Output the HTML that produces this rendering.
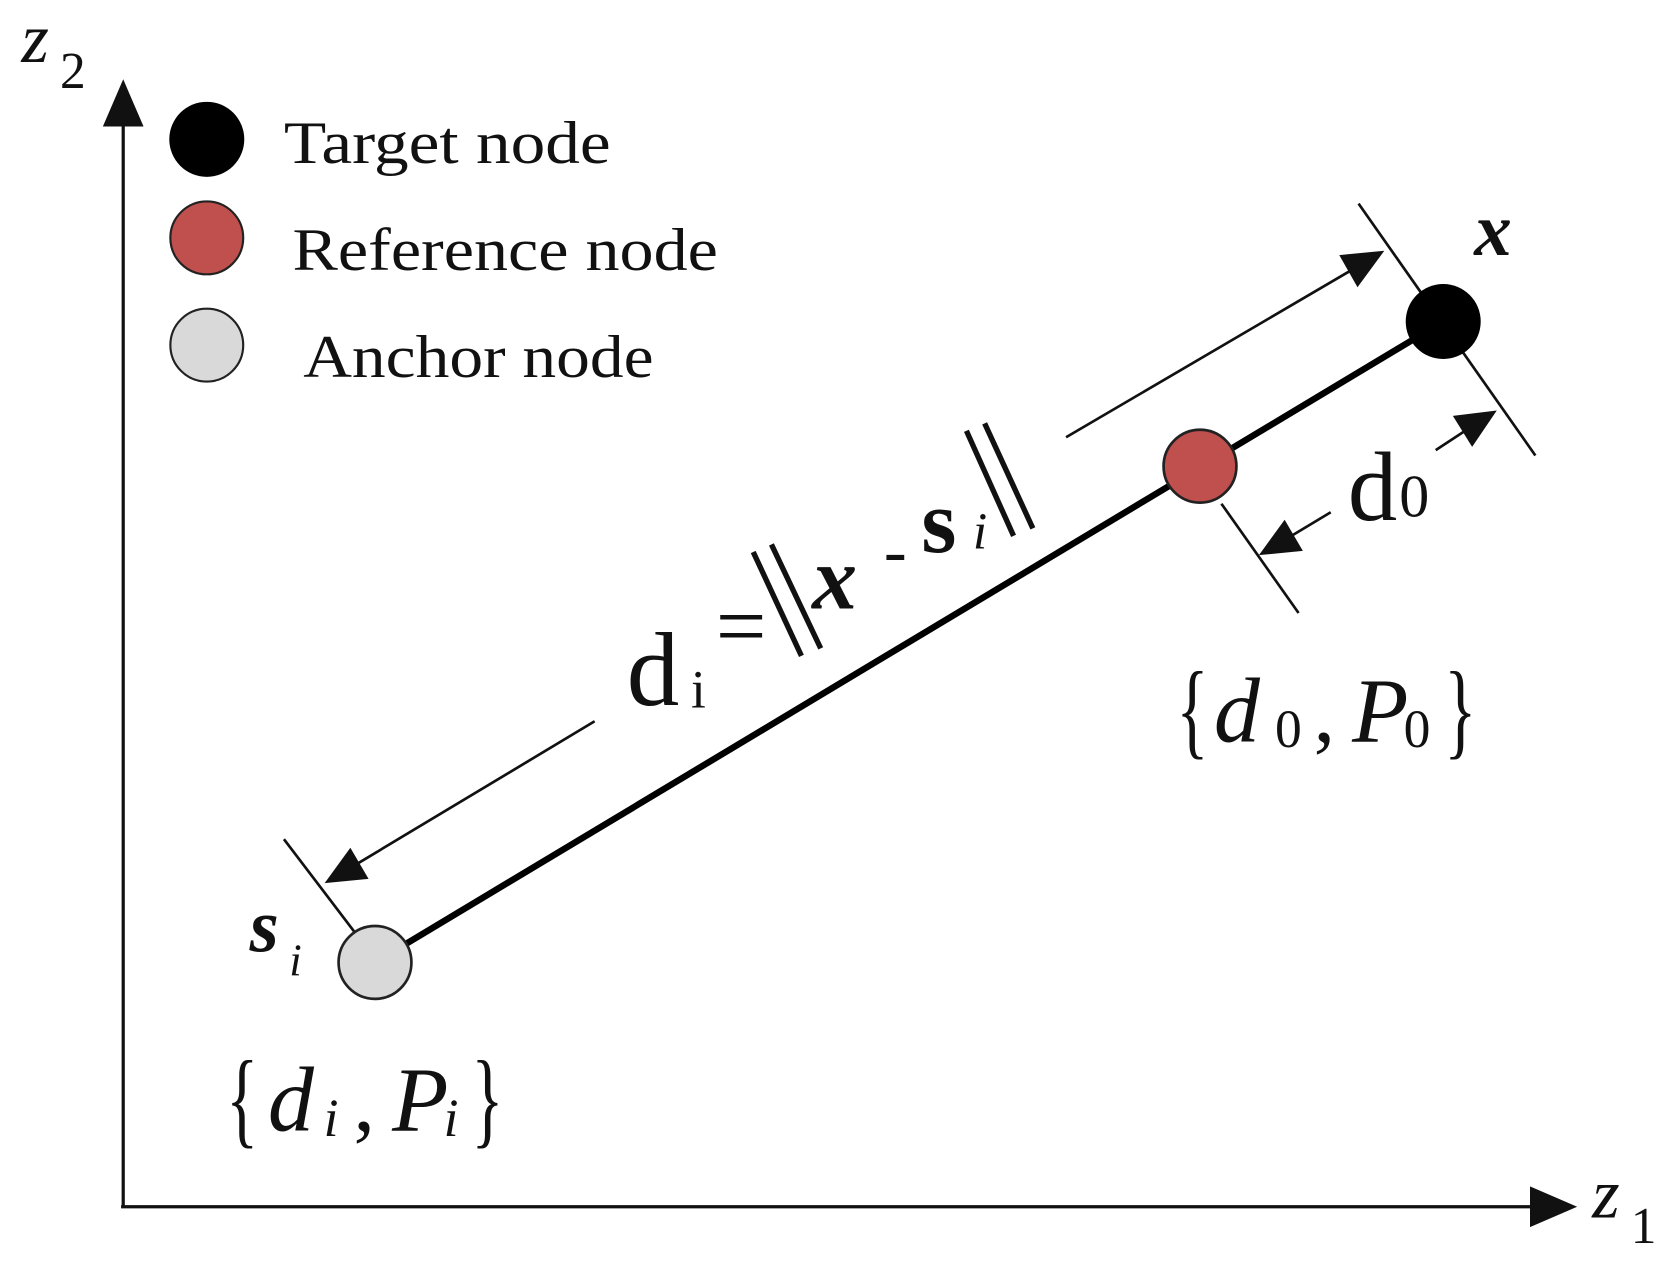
<!DOCTYPE html>
<html><head><meta charset="utf-8"><style>
html,body{margin:0;padding:0;background:#fff;}
svg{display:block;}
text{font-family:"Liberation Serif",serif;fill:#111;}
</style></head><body>
<svg width="1680" height="1270" viewBox="0 0 1568 1185" preserveAspectRatio="none" xmlns="http://www.w3.org/2000/svg">
<!-- axes -->
<line x1="115" y1="1126" x2="115" y2="110" stroke="#111" stroke-width="3"/>
<polygon points="115,74 96,118 134,118" fill="#111"/>
<line x1="113" y1="1126" x2="1440" y2="1126" stroke="#111" stroke-width="3"/>
<polygon points="1472,1126 1428,1107 1428,1145" fill="#111"/>
<text x="20" y="58" font-size="66" font-style="italic">z</text>
<text x="56" y="82" font-size="48">2</text>
<text x="1486" y="1136" font-size="66" font-style="italic">z</text>
<text x="1522" y="1160" font-size="48">1</text>
<!-- legend -->
<circle cx="193" cy="130" r="35" fill="#000"/>
<circle cx="193" cy="222" r="34" fill="#c0504d" stroke="#222" stroke-width="2"/>
<circle cx="193" cy="322" r="34" fill="#d9d9d9" stroke="#222" stroke-width="2"/>
<text x="265" y="152" font-size="56" textLength="305" lengthAdjust="spacingAndGlyphs">Target node</text>
<text x="273" y="252" font-size="56" textLength="397" lengthAdjust="spacingAndGlyphs">Reference node</text>
<text x="283" y="352" font-size="56" textLength="327" lengthAdjust="spacingAndGlyphs">Anchor node</text>
<!-- main line -->
<line x1="350" y1="898" x2="1347" y2="300" stroke="#000" stroke-width="6"/>
<!-- ticks -->
<line x1="1268" y1="190" x2="1433" y2="425" stroke="#111" stroke-width="2.5"/>
<line x1="1140" y1="470" x2="1212" y2="572" stroke="#111" stroke-width="2.5"/>
<line x1="265" y1="783" x2="335" y2="875" stroke="#111" stroke-width="2.5"/>
<!-- nodes -->
<circle cx="1347" cy="300" r="35" fill="#000"/>
<circle cx="1120" cy="435" r="34" fill="#c0504d" stroke="#222" stroke-width="2.5"/>
<circle cx="350" cy="898" r="34" fill="#d9d9d9" stroke="#222" stroke-width="2.5"/>
<!-- long arrows -->
<line x1="995" y1="408" x2="1270" y2="247" stroke="#111" stroke-width="2.5"/>
<polygon points="1292,234 1250,238 1267,268" fill="#111"/>
<line x1="555" y1="673" x2="325" y2="811" stroke="#111" stroke-width="2.5"/>
<polygon points="303,824 344,820 327,791" fill="#111"/>
<!-- d0 arrows -->
<line x1="1340" y1="420" x2="1375" y2="397" stroke="#111" stroke-width="2.5"/>
<polygon points="1397,383 1356,388 1374,417" fill="#111"/>
<line x1="1242" y1="478" x2="1197" y2="505" stroke="#111" stroke-width="2.5"/>
<polygon points="1175,518 1216,514 1199,485" fill="#111"/>
<!-- labels -->
<text x="1376" y="238" font-size="70" font-weight="bold" font-style="italic">x</text>
<text x="1258" y="485" font-size="92">d</text>
<text x="1306" y="482" font-size="56">0</text>
<text x="1098" y="695" font-size="100" textLength="30" lengthAdjust="spacingAndGlyphs">{</text>
<text x="1133" y="692" font-size="86" font-style="italic">d</text>
<text x="1190" y="697" font-size="50">0</text>
<text x="1226" y="692" font-size="80">,</text>
<text x="1262" y="692" font-size="86" font-style="italic">P</text>
<text x="1310" y="697" font-size="50">0</text>
<text x="1348" y="695" font-size="100" textLength="30" lengthAdjust="spacingAndGlyphs">}</text>
<text x="233" y="888" font-size="70" font-weight="bold" font-style="italic">s</text>
<text x="270" y="910" font-size="42" font-style="italic">i</text>
<text x="211" y="1058" font-size="100" textLength="30" lengthAdjust="spacingAndGlyphs">{</text>
<text x="250" y="1055" font-size="86" font-style="italic">d</text>
<text x="302" y="1060" font-size="50" font-style="italic">i</text>
<text x="330" y="1055" font-size="80">,</text>
<text x="366" y="1055" font-size="86" font-style="italic">P</text>
<text x="414" y="1060" font-size="50" font-style="italic">i</text>
<text x="440" y="1058" font-size="100" textLength="30" lengthAdjust="spacingAndGlyphs">}</text>
<!-- formula -->
<text x="585" y="658" font-size="98">d</text>
<text x="645" y="660" font-size="50">i</text>
<text x="668" y="612" font-size="84">=</text>
<line x1="703" y1="515" x2="748" y2="612" stroke="#111" stroke-width="5"/>
<line x1="720" y1="508" x2="766" y2="605" stroke="#111" stroke-width="5"/>
<text x="758" y="568" font-size="84" font-weight="bold" font-style="italic">x</text>
<text x="825" y="535" font-size="64">-</text>
<text x="860" y="515" font-size="84" font-weight="bold">s</text>
<text x="908" y="512" font-size="48" font-style="italic">i</text>
<line x1="902" y1="402" x2="946" y2="500" stroke="#111" stroke-width="5"/>
<line x1="919" y1="395" x2="964" y2="493" stroke="#111" stroke-width="5"/>
</svg>
</body></html>
